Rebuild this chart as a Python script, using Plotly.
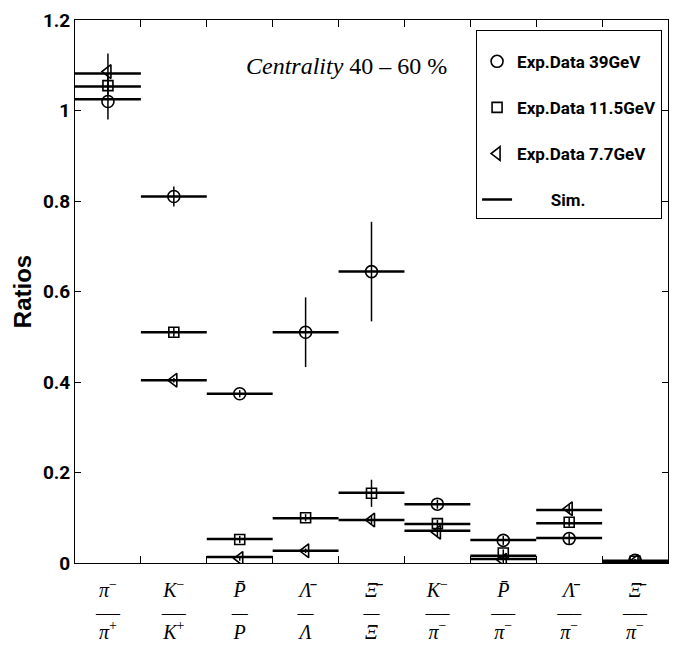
import plotly.graph_objects as go

# ---- data ----
def frac(num, den, wide):
    bar = "—–" if wide else "—"
    s = '<span style="font-size:20px">%s</span>'
    return (s % num) + "<br>" + bar + "<br>" + (s % den)

ratio_labels = [
    frac("<i>π</i><sup>−</sup>", "<i>π</i><sup>+</sup>", True),
    frac("<i>K</i><sup>−</sup>", "<i>K</i><sup>+</sup>", True),
    frac("<i>P̄</i>", "<i>P</i>", False),
    frac("<i>Λ̄</i>", "<i>Λ</i>", False),
    frac("<i>Ξ̄</i>", "<i>Ξ</i>", False),
    frac("<i>K</i><sup>−</sup>", "<i>π</i><sup>−</sup>", True),
    frac("<i>P̄</i>", "<i>π</i><sup>−</sup>", True),
    frac("<i>Λ̄</i>", "<i>π</i><sup>−</sup>", True),
    frac("<i>Ξ̄</i>", "<i>π</i><sup>−</sup>", True),
]
cat_index = [1, 2, 3, 4, 5, 6, 7, 8, 9]

exp_39 = [1.020, 0.810, 0.374, 0.510, 0.644, 0.130, 0.050, 0.054, 0.006]
err_39 = [0.040, 0.022, 0.008, 0.077, 0.110, 0.010, 0.010, 0.012, 0.003]
exp_11 = [1.055, 0.510, 0.052, 0.100, 0.154, 0.087, 0.022, 0.090, 0.004]
err_11 = [0.020, 0.010, 0.008, 0.008, 0.030, 0.008, 0.008, 0.010, 0.003]
exp_7 = [1.086, 0.404, 0.010, 0.027, 0.095, 0.068, 0.006, 0.120, 0.003]
err_7 = [0.040, 0.005, 0.005, 0.005, 0.010, 0.010, 0.010, 0.010, 0.003]

sim_39 = [1.025, 0.810, 0.374, 0.510, 0.644, 0.130, 0.051, 0.055, 0.005]
sim_11 = [1.053, 0.510, 0.053, 0.099, 0.155, 0.086, 0.016, 0.088, 0.004]
sim_7 = [1.082, 0.404, 0.013, 0.027, 0.095, 0.071, 0.009, 0.117, 0.003]

y_ticks = [0, 0.2, 0.4, 0.6, 0.8, 1.0, 1.2]
y_ticktext = ["0", "0.2", "0.4", "0.6", "0.8", "1", "1.2"]

COND = "Roboto, Liberation Sans, sans-serif"
SERIF = "Liberation Serif, Times New Roman, serif"

fig = go.Figure()

# simulation: horizontal segments spanning each category bin
for k, sim in enumerate([sim_39, sim_11, sim_7]):
    xs, ys = [], []
    for c, v in zip(cat_index, sim):
        xs += [c - 0.5, c + 0.5, None]
        ys += [v, v, None]
    fig.add_trace(go.Scatter(
        x=xs, y=ys, mode="lines", name="\u00a0\u00a0\u00a0\u00a0\u00a0\u00a0\u00a0\u00a0Sim.",
        line=dict(color="black", width=2.5),
        legendgroup="sim", showlegend=(k == 0), legendrank=4,
    ))

series = [
    ("Exp.Data 39GeV", exp_39, err_39, "circle-open", 12, 1),
    ("Exp.Data 11.5GeV", exp_11, err_11, "square-open", 10, 2),
    ("Exp.Data 7.7GeV", exp_7, err_7, "triangle-left-open", 12, 3),
]
for name, vals, errs, sym, size, rank in series:
    fig.add_trace(go.Scatter(
        x=cat_index, y=vals, mode="markers", name=name,
        marker=dict(symbol=sym, size=size, color="black", line=dict(width=1.6, color="black")),
        error_y=dict(type="data", array=errs, visible=True, color="black", thickness=1.5, width=0),
        legendgroup=name, legendrank=rank,
    ))

fig.add_annotation(
    xref="paper", yref="paper", x=0.457, y=0.943, xanchor="center",
    text="<i>Centrality</i> 40 – 60 %", showarrow=False,
    font=dict(family=SERIF, size=24, color="black"),
)

fig.update_layout(
    width=678, height=654,
    margin=dict(l=75, r=10, t=20, b=91),
    paper_bgcolor="white", plot_bgcolor="white",
    showlegend=True,
    legend=dict(
        x=0.990, y=0.982, xanchor="right", yanchor="top",
        bordercolor="black", borderwidth=1, bgcolor="white",
        font=dict(family=COND, size=17, color="black", weight="bold"),
        tracegroupgap=21, traceorder="grouped",
        title=dict(text=" ", font=dict(size=10)),
    ),
    xaxis=dict(
        range=[0.5, 9.5], tickvals=cat_index, ticktext=ratio_labels,
        ticks="", showline=True, linecolor="black", linewidth=1, mirror=True,
        showgrid=False, zeroline=False, ticklabelstandoff=14,
        tickfont=dict(family=SERIF, size=16, color="black"),
    ),
    xaxis2=dict(
        overlaying="x", anchor="y", side="bottom", range=[0.5, 9.5],
        tickvals=[1.5, 2.5, 3.5, 4.5, 5.5, 6.5, 7.5, 8.5],
        ticks="inside", ticklen=7, tickcolor="black", mirror="ticks",
        showticklabels=False, showline=False, showgrid=False, zeroline=False,
    ),
    yaxis=dict(
        range=[0, 1.2], tickvals=y_ticks, ticktext=y_ticktext,
        ticks="inside", ticklen=6, tickcolor="black",
        showline=True, linecolor="black", linewidth=1, mirror="ticks",
        showgrid=False, zeroline=False,
        tickfont=dict(family=COND, size=19, color="black", weight="bold"),
        title=dict(text="<b>Ratios</b>", font=dict(family="Liberation Sans, Arial, sans-serif", size=24, color="black"), standoff=4),
    ),
)
# invisible trace so the boundary-tick axis is drawn
fig.add_trace(go.Scatter(x=[None], y=[None], xaxis="x2", showlegend=False, hoverinfo="skip"))

fig.write_html("out.html")
